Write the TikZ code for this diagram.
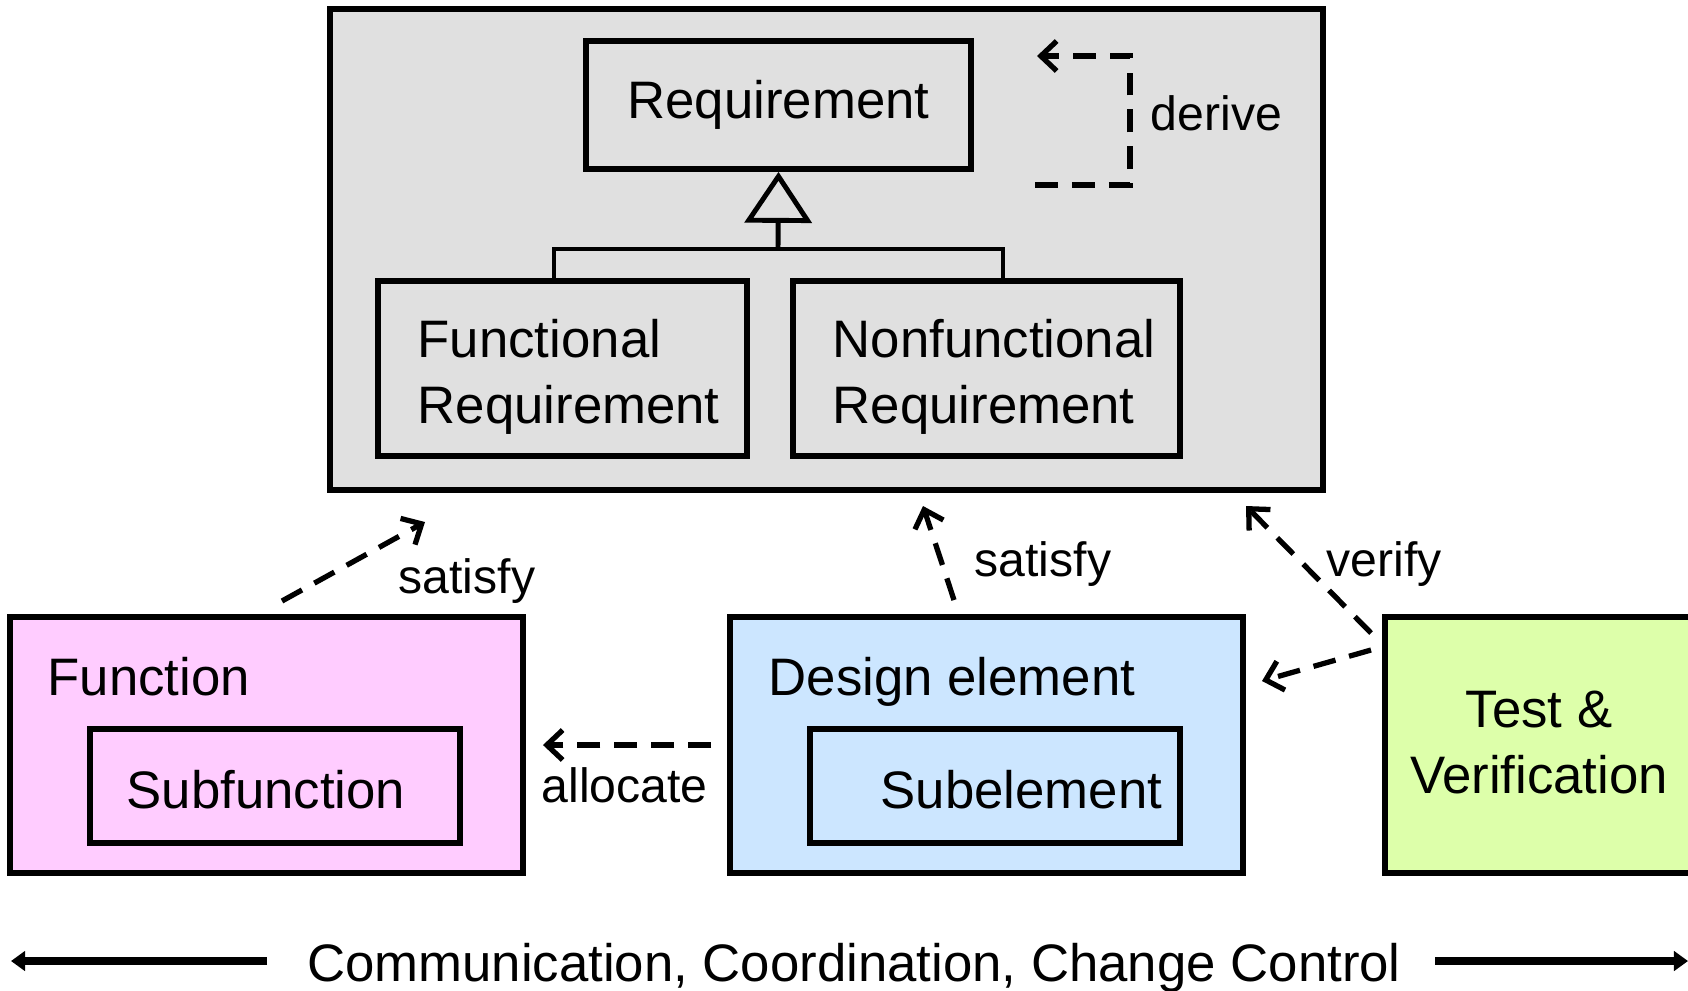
\documentclass[tikz,border=0pt]{standalone}
\usepackage{fontspec}
\setmainfont{Liberation Sans}
\usetikzlibrary{arrows.meta}
\definecolor{grisfond}{RGB}{224,224,224}
\definecolor{rosefond}{RGB}{255,204,255}
\definecolor{bleufond}{RGB}{204,230,255}
\definecolor{vertfond}{RGB}{221,255,170}
\tikzset{
  boite/.style={draw,line width=1.6pt,inner sep=0pt},
  texte/.style={font=\fontsize{15pt}{18.5pt}\selectfont,inner sep=0pt},
  etiquette/.style={font=\fontsize{13.7pt}{16pt}\selectfont,inner sep=0pt},
  dep/.style={line width=1.5pt,dash pattern=on 6.5pt off 4pt,-{Straight Barb[length=4.5pt,width=8.5pt]}},
  lien/.style={line width=1.4pt},
  large/.style={line width=2.2pt,-{Triangle[length=4pt,width=5.5pt]}},
}
\begin{document}
\begin{tikzpicture}[x=0.01cm,y=-0.01cm] % une unite = un pixel
\useasboundingbox (0,0) rectangle (1688,990);
% le paquet des exigences
\node[boite,fill=grisfond,minimum width=9.93cm,minimum height=4.81cm] (paquet) at (826.5,249.5) {};
\node[boite,texte,minimum width=3.85cm,minimum height=1.28cm] (req) at (778.5,105) {Requirement};
\node[boite,minimum width=3.69cm,minimum height=1.75cm] (fr) at (562.5,368.5) {};
\node[boite,minimum width=3.87cm,minimum height=1.75cm] (nf) at (986.5,368.5) {};
\node[texte,anchor=base west,align=left] (frT) at (417,423) {Functional\\Requirement};
\node[texte,anchor=base west,align=left] (nfT) at (832,423) {Nonfunctional\\Requirement};
% la generalisation
\coordinate (tige) at (778,249);
\draw[lien] ([xshift=-0.085cm]fr.north) |- (tige) -| ([xshift=0.165cm]nf.north);
\draw[lien,-{Triangle[open,length=14.5pt,width=19pt]}] (tige) -- (req.south);
% derive
\coordinate (derA) at (1035,185);
\coordinate (derB) at (1037,56);
\draw[dep] (derA) -- ++(95,0) |- (derB);
\node[etiquette,anchor=base west] (derT) at (1150,130) {derive};
% les trois blocs du bas
\node[boite,fill=rosefond,minimum width=5.13cm,minimum height=2.56cm] (fn) at (266.5,745) {};
\node[boite,minimum width=3.70cm,minimum height=1.14cm] (sf) at (275,786) {};
\node[texte,anchor=base west] (fnT) at (47,695) {Function};
\node[texte,anchor=base] (sfT) at (266,808) {Subfunction};
\node[boite,fill=bleufond,minimum width=5.13cm,minimum height=2.56cm] (de) at (986.5,745) {};
\node[boite,minimum width=3.70cm,minimum height=1.14cm] (se) at (995,786) {};
\node[texte,anchor=base west] (deT) at (768,695) {Design element};
\node[texte,anchor=base] (seT) at (1021.5,808) {Subelement};
\node[boite,fill=vertfond,minimum width=3.10cm,minimum height=2.56cm] (tv) at (1540,745) {};
\node[texte,anchor=base,align=center] (tvT) at (1539,793) {Test \&\\Verification};
% satisfy, verify, allocate
\coordinate (s1a) at (282,601);
\coordinate (s1b) at (425,522);
\draw[dep] (s1a) -- (s1b);
\node[etiquette,anchor=base west] (s1T) at (398,593) {satisfy};
\coordinate (s2a) at (954,600);
\coordinate (s2b) at (923,506);
\draw[dep] (s2a) -- (s2b);
\node[etiquette,anchor=base west] (s2T) at (974,576) {satisfy};
\coordinate (v1a) at (1371,633);
\coordinate (v1b) at (1246,506);
\draw[dep] (v1a) -- (v1b);
\coordinate (v2a) at (1371,650);
\coordinate (v2b) at (1262,681);
\draw[dep] (v2a) -- (v2b);
\node[etiquette,anchor=base west] (vT) at (1326,576) {verify};
\draw[dep,shorten <=0.16cm,shorten >=0.17cm] (de.west) -- (fn.east);
\node[etiquette,anchor=base west] (alT) at (541,802) {allocate};
% la ligne du bas
\node[texte,anchor=base] (comm) at (854,981) {Communication, Coordination, Change Control};
\coordinate (gA) at (267,961);
\coordinate (gB) at (11,961);
\coordinate (dA) at (1435,961);
\coordinate (dB) at (1688,961);
\draw[large] (gA) -- (gB);
\draw[large] (dA) -- (dB);
\end{tikzpicture}
\end{document}
